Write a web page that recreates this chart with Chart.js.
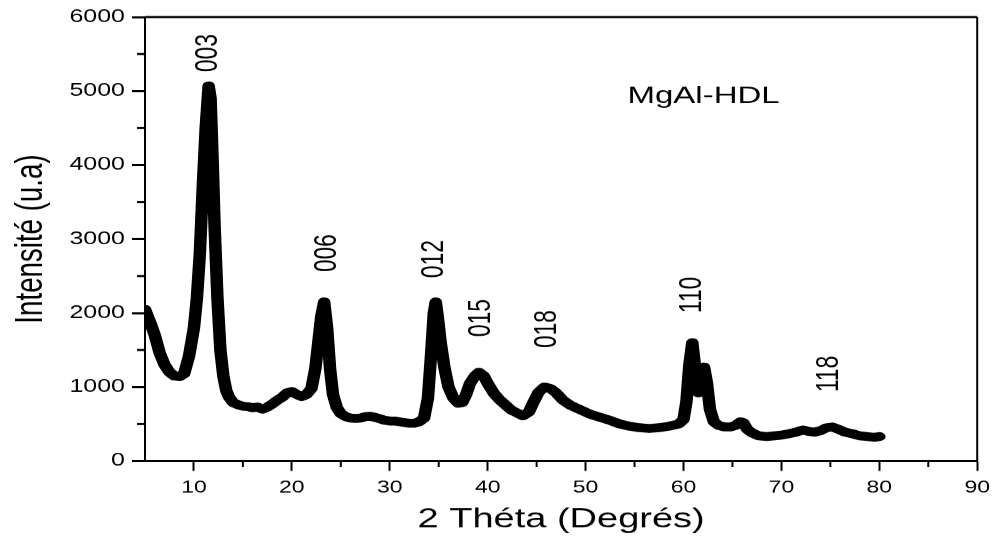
<!DOCTYPE html>
<html>
<head>
<meta charset="utf-8">
<title>MgAl-HDL DRX</title>
<script src="https://cdn.jsdelivr.net/npm/chart.js@4.4.1/dist/chart.umd.min.js"></script>
<style>
  html, body { margin: 0; padding: 0; background: #fff; }
</style>
</head>
<body>
<!-- drawn taller then squeezed to 538, like the original export -->
<canvas id="xrd" width="1000" height="758" style="width:1000px;height:538px;display:block"></canvas>
<script>
// pattern
const twoTheta = [
  5.0, 5.3, 5.6, 6.0, 6.5, 7.0, 7.5, 8.0, 8.5, 9.0, 9.5, 10.0, 10.3, 10.6, 10.9, 11.2, 11.5, 11.7, 11.9, 12.1,
  12.4, 12.7, 13.0, 13.3, 13.6, 14.0, 14.5, 15.0, 15.5, 16.0, 16.5, 17.0, 17.5, 18.0, 18.5, 19.0, 19.5, 20.0, 20.5, 21.0,
  21.5, 22.0, 22.4, 22.7, 23.0, 23.3, 23.6, 23.9, 24.2, 24.6, 25.0, 25.5, 26.0, 26.5, 27.0, 27.5, 28.0, 28.5, 29.0, 29.5,
  30.0, 30.5, 31.0, 31.5, 32.0, 32.5, 33.0, 33.5, 33.9, 34.2, 34.5, 34.7, 34.9, 35.2, 35.6, 36.0, 36.5, 37.0, 37.4, 37.8,
  38.2, 38.7, 39.1, 39.6, 40.0, 40.6, 41.2, 41.8, 42.4, 43.0, 43.6, 44.2, 44.7, 45.2, 45.8, 46.4, 47.0, 47.7, 48.5, 49.5,
  50.5, 51.5, 52.5, 53.5, 54.5, 55.5, 56.5, 57.5, 58.5, 59.5, 60.0, 60.3, 60.6, 60.9, 61.2, 61.5, 61.8, 62.1, 62.4, 62.7,
  63.1, 63.6, 64.2, 64.8, 65.3, 65.8, 66.1, 66.5, 67.0, 67.7, 68.5, 69.3, 70.0, 70.8, 71.5, 72.2, 72.8, 73.4, 74.0, 74.6,
  75.2, 75.8, 76.5, 77.2, 78.0, 78.8, 79.5, 80.0
];
const intensity = [
  2050, 1950, 1850, 1700, 1460, 1300, 1200, 1150, 1140, 1180, 1420, 1800, 2200, 2800, 3700, 4500, 5070, 4900, 4100, 3200,
  2200, 1500, 1150, 950, 860, 790, 760, 740, 735, 720, 730, 700, 730, 770, 820, 860, 920, 940, 900, 870,
  900, 980, 1250, 1600, 1950, 2150, 1800, 1250, 900, 720, 640, 600, 580, 575, 580, 600, 605, 590, 570, 550,
  540, 540, 530, 520, 510, 510, 530, 580, 850, 1400, 2000, 2150, 1950, 1600, 1250, 1000, 850, 780, 790, 900,
  1050, 1150, 1200, 1150, 1050, 920, 830, 760, 690, 650, 610, 660, 800, 930, 1000, 980, 920, 820, 750, 690,
  630, 590, 550, 500, 470, 450, 440, 450, 470, 500, 560, 800, 1300, 1600, 1250, 920, 1100, 1270, 1050, 700,
  530, 480, 460, 460, 480, 530, 520, 430, 380, 340, 330, 340, 350, 370, 390, 420, 400, 390, 410, 450,
  460, 430, 390, 370, 340, 330, 320, 330
];

const xTicks = [10, 20, 30, 40, 50, 60, 70, 80, 90];
const xMinor = [15, 25, 35, 45, 55, 65, 75, 85];
const yMinor = [500, 1500, 2500, 3500, 4500, 5500];

// reflection indices and where their labels sit (2θ, intensity at label start)
const peakNames = ['003', '006', '012', '015', '018', '110', '118'];
const peakTheta = [11.43, 23.62, 34.55, 39.3, 46.08, 60.86, 74.92];
const peakLabelAt = [5257, 2554, 2473, 1676, 1527, 2000, 932];

const sampleName = 'MgAl-HDL';
const samplePos = [54.28, 4838];

const FONT = "'Liberation Sans', Arial, sans-serif";

const decorations = {
  id: 'decorations',
  afterDatasetsDraw(chart) {
    const {ctx, chartArea: a, scales: {x, y}} = chart;
    ctx.save();
    ctx.strokeStyle = '#000';
    // top + right frame
    ctx.lineWidth = 3;
    ctx.beginPath();
    ctx.moveTo(a.left, a.top);
    ctx.lineTo(a.right, a.top);
    ctx.stroke();
    ctx.lineWidth = 2;
    ctx.beginPath();
    ctx.moveTo(a.right, a.top);
    ctx.lineTo(a.right, a.bottom);
    ctx.stroke();
    // minor ticks
    ctx.lineWidth = 2;
    xMinor.forEach(v => {
      const px = x.getPixelForValue(v);
      ctx.beginPath();
      ctx.moveTo(px, a.bottom);
      ctx.lineTo(px, a.bottom + 8.5);
      ctx.stroke();
    });
    ctx.lineWidth = 3;
    yMinor.forEach(v => {
      const py = y.getPixelForValue(v);
      ctx.beginPath();
      ctx.moveTo(a.left - 8, py);
      ctx.lineTo(a.left, py);
      ctx.stroke();
    });
    // peak labels
    ctx.fillStyle = '#000';
    ctx.font = '32px ' + FONT;
    ctx.textAlign = 'left';
    ctx.textBaseline = 'middle';
    peakNames.forEach((name, i) => {
      ctx.save();
      ctx.translate(x.getPixelForValue(peakTheta[i]), y.getPixelForValue(peakLabelAt[i]));
      ctx.rotate(-Math.PI / 2);
      ctx.fillText(name, 0, 0);
      ctx.restore();
    });
    ctx.font = '33px ' + FONT;
    ctx.textBaseline = 'alphabetic';
    ctx.fillText(sampleName, x.getPixelForValue(samplePos[0]), y.getPixelForValue(samplePos[1]));
    ctx.restore();
  }
};

new Chart(document.getElementById('xrd'), {
  type: 'line',
  data: {
    datasets: [{
      data: twoTheta.map((t, i) => ({x: t, y: intensity[i]})),
      borderColor: '#000',
      borderWidth: 12.5,
      borderJoinStyle: 'round',
      borderCapStyle: 'round',
      pointRadius: 0,
      tension: 0,
      fill: false
    }]
  },
  options: {
    responsive: false,
    animation: false,
    devicePixelRatio: 1,
    layout: {padding: {top: 24, right: 15, left: 0, bottom: 0}},
    plugins: {legend: {display: false}, tooltip: {enabled: false}},
    scales: {
      x: {
        type: 'linear',
        min: 5,
        max: 90,
        afterBuildTicks: s => { s.ticks = xTicks.map(v => ({value: v})); },
        afterFit: s => { s.height = 108.5; },
        border: {color: '#000', width: 3},
        grid: {drawOnChartArea: false, tickLength: 14, tickWidth: 2, tickColor: '#000'},
        ticks: {color: '#000', padding: 10, font: {family: FONT, size: 23}, maxRotation: 0},
        title: {
          display: true,
          text: '2 Théta (Degrés)',
          color: '#000',
          font: {family: FONT, size: 38, lineHeight: 1.2},
          padding: {top: 0, bottom: 3}
        }
      },
      y: {
        min: 0,
        max: 6000,
        ticks: {
          stepSize: 1000,
          color: '#000',
          padding: 7,
          font: {family: FONT, size: 25},
          callback: v => String(v)
        },
        afterFit: s => { s.width = 145; },
        border: {color: '#000', width: 2},
        grid: {drawOnChartArea: false, tickLength: 13, tickWidth: 3, tickColor: '#000'},
        title: {
          display: true,
          text: 'Intensité (u.a)',
          color: '#000',
          font: {family: FONT, size: 39, lineHeight: 1.2},
          padding: {top: 8, bottom: 0}
        }
      }
    }
  },
  plugins: [decorations]
});
</script>
</body>
</html>
